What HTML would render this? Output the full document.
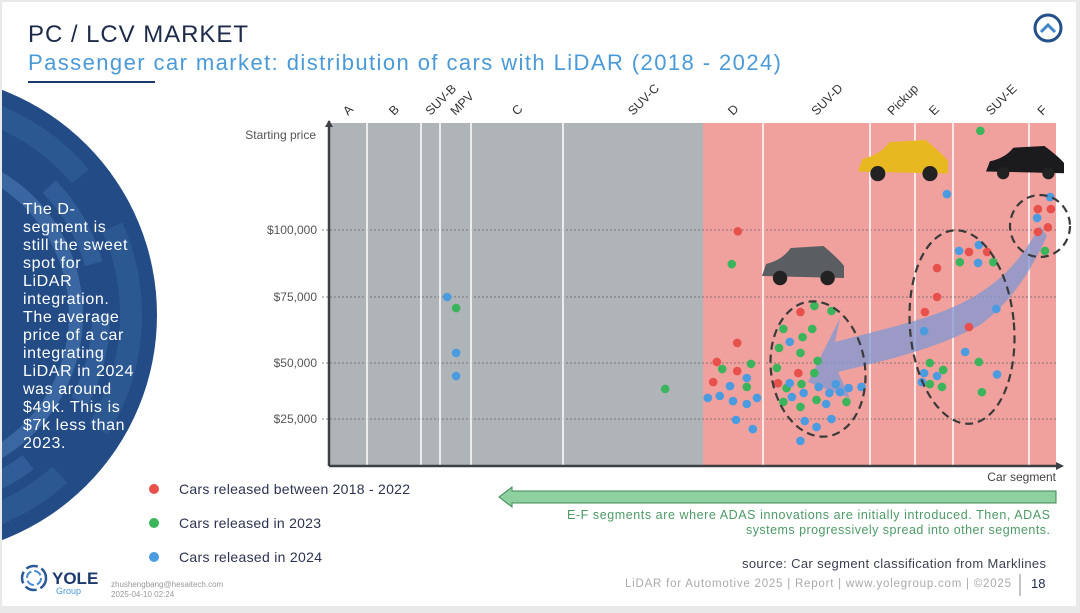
<!DOCTYPE html>
<html><head><meta charset="utf-8">
<style>
html,body{margin:0;padding:0;width:1080px;height:613px;overflow:hidden;background:#e9e9e9;font-family:"Liberation Sans",sans-serif;}
#page{position:absolute;left:2px;top:2px;width:1074px;height:604px;background:#fff;overflow:hidden;}
</style></head>
<body>
<div id="page">
<svg id="svg" width="1080" height="613" style="position:absolute;left:-2px;top:-2px">
  <defs>
    <clipPath id="circClip"><circle cx="-84" cy="315" r="241"/></clipPath>
  </defs>
  <g>
    <circle cx="-84" cy="315" r="241" fill="#234b86"/>
    <g clip-path="url(#circClip)" fill="none">
      <circle cx="-84" cy="315" r="215" stroke="#2c5892" stroke-width="22" stroke-dasharray="120 60"/>
      <circle cx="-84" cy="315" r="185" stroke="#305d98" stroke-width="18" stroke-dasharray="90 80"/>
      <circle cx="-84" cy="315" r="160" stroke="#3a67a2" stroke-width="14" stroke-dasharray="200 70"/>
    </g>
  </g>
  <text x="28" y="42" font-size="24" fill="#1d2a4a" textLength="220">PC / LCV MARKET</text>
  <text x="28" y="70" font-size="22" fill="#4a9ad8" textLength="753">Passenger car market: distribution of cars with LiDAR (2018 - 2024)</text>
  <line x1="28" y1="82" x2="155" y2="82" stroke="#1d3a6e" stroke-width="2"/>
  <g>
    <circle cx="1048" cy="28" r="13" fill="none" stroke="#244f8a" stroke-width="3"/>
    <polyline points="1041,32 1048,25 1055,32" fill="none" stroke="#3f86c8" stroke-width="3"/>
  </g>
  <g id="sidetext" font-size="16" fill="#fff" letter-spacing="0.6"></g>
  <g id="chart"></g>
  <g>
    <g><circle cx="154" cy="489" r="5" fill="#e8514b"/><text x="179" y="494" font-size="14" fill="#2c3350" textLength="231">Cars released between 2018 - 2022</text></g>
    <g><circle cx="154" cy="523" r="5" fill="#3bb55b"/><text x="179" y="528" font-size="14" fill="#2c3350" textLength="142">Cars released in 2023</text></g>
    <g><circle cx="154" cy="557" r="5" fill="#4a9be0"/><text x="179" y="562" font-size="14" fill="#2c3350" textLength="143">Cars released in 2024</text></g>
  </g>
  <g>
    <polygon points="499,497 512,487 512,491 1056,491 1056,503 512,503 512,507" fill="#8fd0a0" stroke="#3f8a55" stroke-width="1"/>
  </g>
  <text x="1050" y="519" font-size="12.5" fill="#4e9a66" text-anchor="end" textLength="483">E-F segments are where ADAS innovations are initially introduced. Then, ADAS</text>
  <text x="1050" y="534" font-size="12.5" fill="#4e9a66" text-anchor="end" textLength="304">systems progressively spread into other segments.</text>
  <text x="1046" y="568" font-size="13" fill="#3a3f50" text-anchor="end" textLength="304">source: Car segment classification from Marklines</text>
  <text x="1011" y="587" font-size="11.5" fill="#aaa" text-anchor="end" textLength="386">LiDAR for Automotive 2025 | Report | www.yolegroup.com | ©2025</text>
  <line x1="1020" y1="574" x2="1020" y2="596" stroke="#888" stroke-width="1"/>
  <text x="1031" y="588" font-size="13" fill="#1d2a4a">18</text>
  <g>
    <circle cx="34" cy="578" r="12" fill="none" stroke="#2a5a98" stroke-width="2.5" stroke-dasharray="12 4"/>
    <circle cx="34" cy="578" r="7" fill="none" stroke="#4a8ad0" stroke-width="2" stroke-dasharray="8 3"/>
    <text x="52" y="584" font-size="17" font-weight="bold" fill="#1d3a6e">YOLE</text>
    <text x="56" y="594" font-size="9" fill="#4a9ad8">Group</text>
  </g>
  <text x="111" y="587" font-size="8" fill="#999">zhushengbang@hesaitech.com</text>
  <text x="111" y="597" font-size="8" fill="#999">2025-04-10 02:24</text>
</svg>
</div>
<script>
const segments=["A","B","SUV-B","MPV","C","SUV-C","D","SUV-D","Pickup","E","SUV-E","F"];
const segBounds=[329,367,421,440,471,563,703,763,870,915,953,1029,1056];
const yTicks=[25000,50000,75000,100000];
const yTickLabels=["$25,000","$50,000","$75,000","$100,000"];
const redSeg=["D","D","D","D","D","SUV-D","SUV-D","SUV-D","E","E","E","SUV-E","SUV-E","SUV-E","F","F","F","F"];
const redPos=[.58,.23,.17,.57,.57,.35,.33,.14,.58,.58,.26,.21,.45,.21,.33,.81,.70,.33];
const redPrice=[99500,50400,41500,57600,46400,69300,45500,41000,85800,75000,69300,91800,91800,63600,107800,107800,101000,99300];
const greenSeg=["D","D","D","D","SUV-D","SUV-D","SUV-D","SUV-D","SUV-D","SUV-D","SUV-D","SUV-D","SUV-D","SUV-D","SUV-D","SUV-D","SUV-D","SUV-D","SUV-D","SUV-D","SUV-E","SUV-E","SUV-E","E","E","E","E","SUV-E","SUV-E","F","SUV-C","MPV"];
const greenPos=[.48,.32,.8,.73,.48,.64,.19,.46,.15,.37,.35,.51,.13,.48,.36,.22,.19,.5,.35,.78,.36,.09,.53,.39,.74,.39,.71,.34,.38,.59,.73,.52];
const greenPrice=[87300,47300,49600,39300,71600,69700,62900,62900,55700,59800,53800,50800,47800,45500,40600,38800,32600,33500,30400,32600,137000,88000,88000,50000,46900,40600,39300,50400,37000,92200,38400,70800];
const blueSeg=["D","D","D","D","D","D","D","D","D","SUV-D","SUV-D","SUV-D","SUV-D","SUV-D","SUV-D","SUV-D","SUV-D","SUV-D","SUV-D","SUV-D","SUV-D","SUV-D","SUV-D","SUV-D","E","E","E","E","E","SUV-E","SUV-E","SUV-E","SUV-E","SUV-E","SUV-E","F","F","MPV","MPV","MPV"];
const bluePos=[.08,.28,.45,.5,.73,.73,.9,.55,.83,.25,.25,.38,.27,.52,.62,.68,.72,.8,.92,.59,.39,.5,.64,.35,.84,.24,.24,.18,.58,.08,.34,.33,.57,.16,.58,.78,.3,.23,.52,.52];
const bluePrice=[34400,35300,39700,33000,31700,43300,34400,24600,20500,58000,41000,36600,34800,39300,36600,40600,37000,38800,39300,31700,24100,21400,25000,15200,113400,62100,45500,41500,44200,92200,94400,87700,70500,54200,44900,112300,104500,75000,53800,44200];
const sideLines=["The D-","segment is","still the sweet","spot for","LiDAR","integration.","The average","price of a car","integrating","LiDAR in 2024","was around","$49k. This is","$7k less than","2023."];

const NS="http://www.w3.org/2000/svg";
function mk(tag,attrs,parent){const e=document.createElementNS(NS,tag);for(const k in attrs)e.setAttribute(k,attrs[k]);parent.appendChild(e);return e;}
const yPix=[419,363,297,230];
function yScale(p){
  if(p<=yTicks[0]) return yPix[0]+(yTicks[0]-p)/25000*56;
  for(let i=0;i<yTicks.length-1;i++){ if(p<=yTicks[i+1]) return yPix[i]+(p-yTicks[i])/(yTicks[i+1]-yTicks[i])*(yPix[i+1]-yPix[i]); }
  return yPix[3]-(p-yTicks[3])/25000*67;
}
function xScale(seg,frac){const i=segments.indexOf(seg);return segBounds[i]+frac*(segBounds[i+1]-segBounds[i]);}

const st=document.getElementById('sidetext');
sideLines.forEach((l,i)=>{const t=mk('text',{x:23,y:214+i*18},st);t.textContent=l;});

const c=document.getElementById('chart');
const X0=329,X1=1056,Y0=123,Y1=466;
const gray=mk('rect',{x:X0,y:Y0,width:703-X0,height:Y1-Y0,fill:'#aeb4b8'},c);


const red=mk('rect',{x:703,y:Y0,width:X1-703,height:Y1-Y0,fill:'#f0a19d'},c);


yTicks.forEach((v,i)=>{const y=yScale(v);
  const g=mk('line',{x1:322,y1:y,x2:X1,y2:y,stroke:'#666','stroke-width':0.8,'stroke-dasharray':'2 2'},c);
  
  
  const t=mk('text',{x:317,y:y+4,'font-size':12,fill:'#555','text-anchor':'end'},c);t.textContent=yTickLabels[i];
  
  
});
segments.forEach((s,i)=>{
  if(i>0&&segBounds[i]!==703){const l=mk('line',{x1:segBounds[i],y1:Y0,x2:segBounds[i],y2:Y1,stroke:'#fff','stroke-width':1.5},c);
    
    }
  const cx=(segBounds[i]+segBounds[i+1])/2;
  const t=mk('text',{x:cx,y:116,'font-size':12.5,fill:'#333',transform:`rotate(-45 ${cx} 116)`},c);t.textContent=s;
  
  
});
const ya=mk('line',{x1:329,y1:Y1,x2:329,y2:Y0-2,stroke:'#3c3f44','stroke-width':2.5},c);


mk('polygon',{points:'325,127 329,120 333,127',fill:'#3c3f44'},c);
const xa=mk('line',{x1:329,y1:Y1,x2:1058,y2:Y1,stroke:'#3c3f44','stroke-width':2.5},c);


mk('polygon',{points:'1056,462 1064,466 1056,470',fill:'#3c3f44'},c);
const yt=mk('text',{x:316,y:139,'font-size':12,fill:'#555','text-anchor':'end'},c);yt.textContent='Starting price';


const xt=mk('text',{x:1056,y:481,'font-size':12,fill:'#444','text-anchor':'end'},c);xt.textContent='Car segment';


function car(x,y,w,h,body,name){const g=mk('g',{},c);
  
  
  mk('path',{d:`M${x} ${y+h*0.75} L${x+w*0.05} ${y+h*0.45} Q${x+w*0.25} ${y+h*0.35} ${x+w*0.35} ${y+h*0.05} L${x+w*0.75} ${y} Q${x+w*0.95} ${y+h*0.35} ${x+w} ${y+h*0.5} L${x+w} ${y+h*0.8} Z`,fill:body},g);
  mk('circle',{cx:x+w*0.22,cy:y+h*0.8,r:h*0.18,fill:'#222'},g);
  mk('circle',{cx:x+w*0.8,cy:y+h*0.8,r:h*0.18,fill:'#222'},g);}
car(858,140,90,42,'#e8b820','car-image-yellow-suv');
car(986,146,78,34,'#1b1b1d','car-image-black-sedan');
car(762,246,82,40,'#5a5d62','car-image-gray-suv');
const ar=mk('path',{d:'M1040 226 C1010 280 975 305 900 325 C870 333 850 338 835 342 L840 318 L808 382 L850 398 L838 372 C875 363 935 350 980 325 C1015 300 1035 262 1047 236 Z',fill:'#7f98d6','fill-opacity':0.75},c);


function series(segs,pos,prices,color,name){
  segs.forEach((s,i)=>{const p=mk('circle',{cx:xScale(s,pos[i]),cy:yScale(prices[i]),r:4.3,fill:color},c);
    
    });
}
series(redSeg,redPos,redPrice,'#e8514b','point-2018-2022');
series(greenSeg,greenPos,greenPrice,'#3bb55b','point-2023');
series(blueSeg,bluePos,bluePrice,'#4a9be0','point-2024');
[[818,369,47,68,-8,'cluster-suv-d'],[962,327,52,97,-5,'cluster-e-suv-e'],[1040,226,30,31,0,'cluster-f']].forEach(e=>{
  const el=mk('ellipse',{cx:e[0],cy:e[1],rx:e[2],ry:e[3],transform:`rotate(${e[4]} ${e[0]} ${e[1]})`,fill:'none',stroke:'#3a3a3a','stroke-width':2.2,'stroke-dasharray':'8 5'},c);
  
  
});
</script>
</body></html>
